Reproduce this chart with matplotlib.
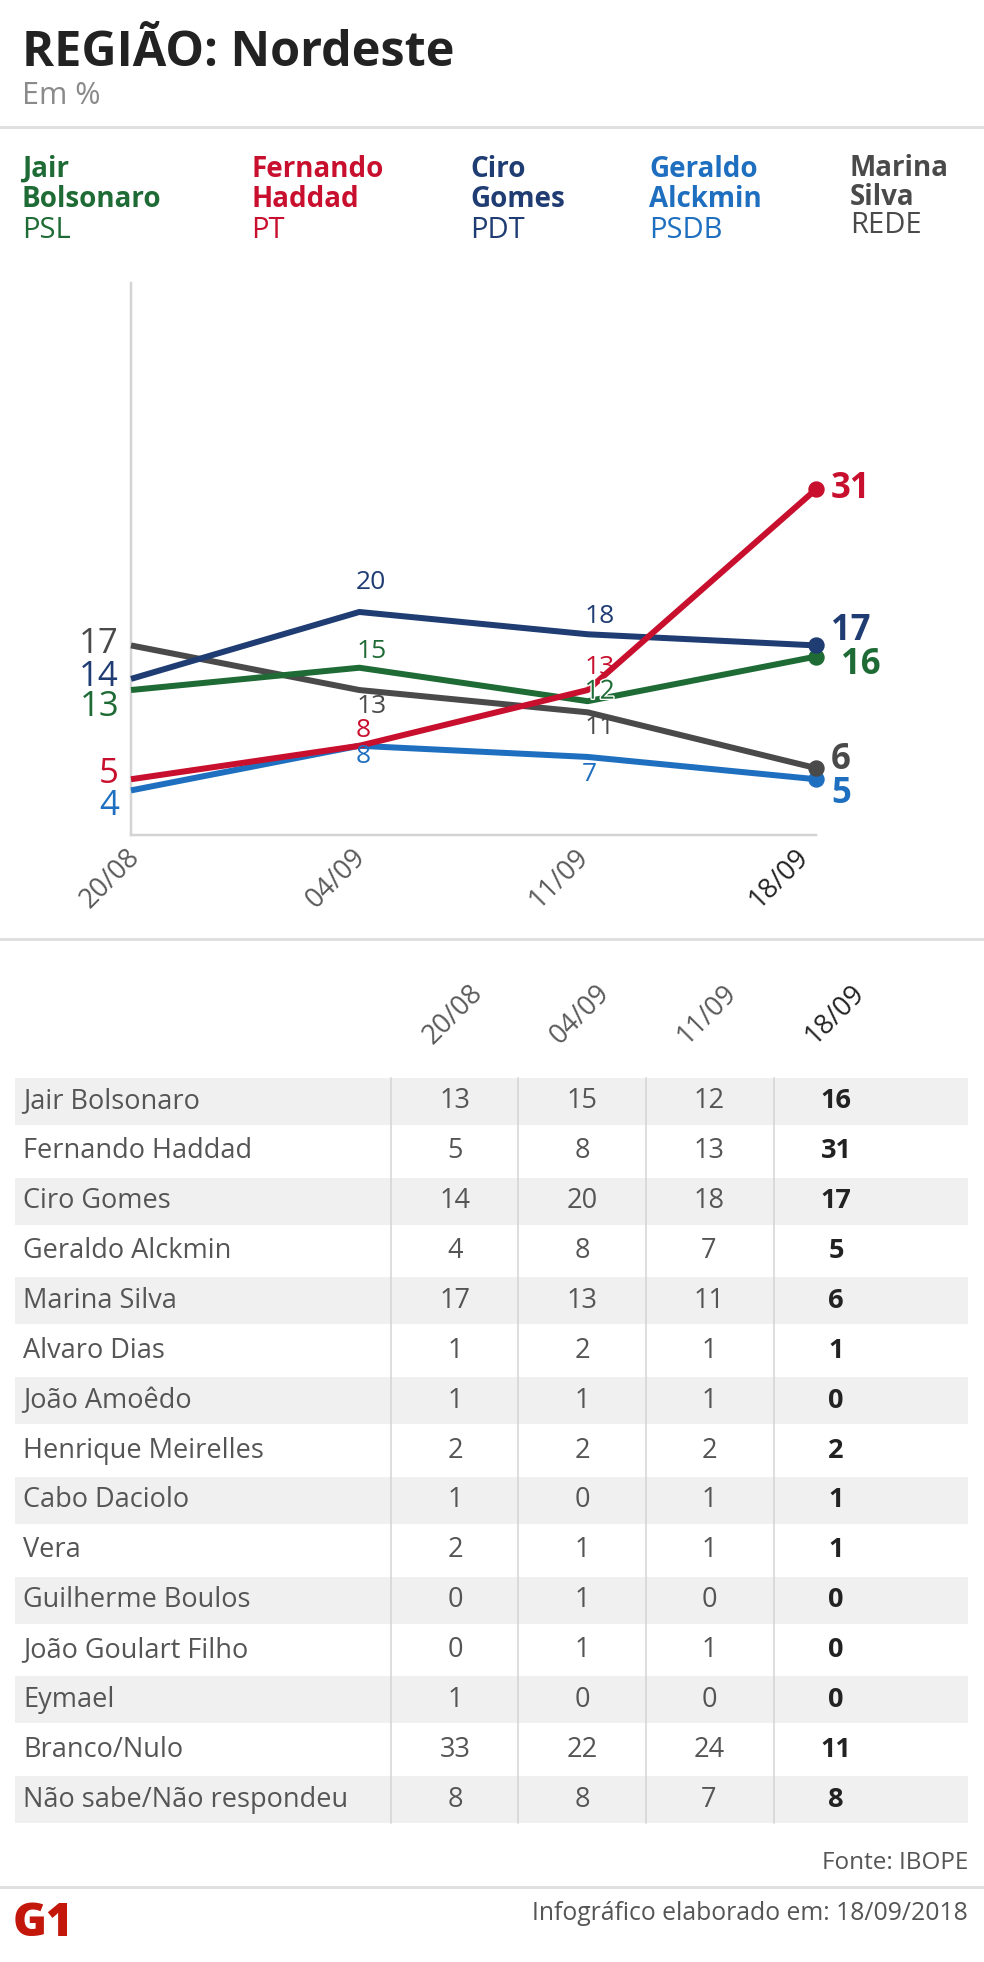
import matplotlib.pyplot as plt
import matplotlib.patheffects as pe
from matplotlib.patches import Rectangle
from matplotlib.lines import Line2D

# ---- data ----
dates = ['20/08', '04/09', '11/09', '18/09']
candidates = ['Jair Bolsonaro', 'Fernando Haddad', 'Ciro Gomes', 'Geraldo Alckmin', 'Marina Silva']
parties = ['PSL', 'PT', 'PDT', 'PSDB', 'REDE']
bolsonaro = [13, 15, 12, 16]
haddad = [5, 8, 13, 31]
ciro = [14, 20, 18, 17]
alckmin = [4, 8, 7, 5]
marina = [17, 13, 11, 6]

table_names = ['Jair Bolsonaro', 'Fernando Haddad', 'Ciro Gomes', 'Geraldo Alckmin',
               'Marina Silva', 'Alvaro Dias', 'João Amoêdo', 'Henrique Meirelles',
               'Cabo Daciolo', 'Vera', 'Guilherme Boulos', 'João Goulart Filho',
               'Eymael', 'Branco/Nulo', 'Não sabe/Não respondeu']
col_2008 = [13, 5, 14, 4, 17, 1, 1, 2, 1, 2, 0, 0, 1, 33, 8]
col_0409 = [15, 8, 20, 8, 13, 2, 1, 2, 0, 1, 1, 1, 0, 22, 8]
col_1109 = [12, 13, 18, 7, 11, 1, 1, 2, 1, 1, 0, 1, 0, 24, 7]
col_1809 = [16, 31, 17, 5, 6, 1, 0, 2, 1, 1, 0, 0, 0, 11, 8]

# ---- style ----
GREEN, RED, NAVY, BLUE, GRAY = '#1e6b35', '#c8102e', '#1f3c73', '#1e6fbf', '#4a4a4a'
colors = [GREEN, RED, NAVY, BLUE, GRAY]
series = [bolsonaro, haddad, ciro, alckmin, marina]
FONT = 'Open Sans'
plt.rcParams['font.family'] = [FONT, 'DejaVu Sans']

W, H = 984, 1962
fig = plt.figure(figsize=(W / 100, H / 100), dpi=100)


def fx(x):
    return x / W


def fy(y):
    return 1 - y / H


def pt(px):
    return px * 0.72


def hline(y, color='#e0e0e0', lw=3):
    fig.add_artist(Line2D([0, 1], [fy(y), fy(y)], color=color, lw=pt(lw)))


# header
fig.text(fx(22), fy(66), 'REGIÃO: Nordeste', fontsize=35, fontweight='bold',
         color='#222222', va='baseline')
fig.text(fx(22), fy(104), 'Em %', fontsize=22, color='#8a8a8a', va='baseline')
hline(127)

# legend
leg_x = [22, 251, 470, 649, 850]
for i, (name, party) in enumerate(zip(candidates, parties)):
    first, second = name.split(' ')
    base = [177, 207, 238] if i < 4 else [176, 205, 233]
    fig.text(fx(leg_x[i]), fy(base[0]), first, fontsize=20, fontweight='bold',
             color=colors[i], va='baseline')
    fig.text(fx(leg_x[i]), fy(base[1]), second, fontsize=20, fontweight='bold',
             color=colors[i], va='baseline')
    fig.text(fx(leg_x[i]), fy(base[2]), party, fontsize=21, color=colors[i],
             va='baseline')

# ---- line chart ----
ax_l, ax_r, ax_b, ax_t = 131, 816, 835, 283
ax = fig.add_axes([fx(ax_l), fy(ax_b), (ax_r - ax_l) / W, (ax_b - ax_t) / H])
ax.set_xlim(0, 3)
ax.set_ylim(0, 49.5)
for s in ['top', 'right']:
    ax.spines[s].set_visible(False)
for s in ['left', 'bottom']:
    ax.spines[s].set_color('#d4d4d4')
    ax.spines[s].set_linewidth(pt(2.5))
ax.set_xticks([])
ax.set_yticks([])
ax.patch.set_alpha(0)

x = list(range(len(dates)))
order = [3, 4, 0, 2, 1]  # draw order
for i in order:
    ax.plot(x, series[i], color=colors[i], lw=pt(6), solid_capstyle='butt',
            solid_joinstyle='round', clip_on=False, zorder=3)
    ax.plot([x[-1]], [series[i][-1]], 'o', color=colors[i], ms=pt(15),
            clip_on=False, zorder=4)

# label offsets in pixels (dx, dy upward) for each series / point
offsets = {
    0: [(-12, -17), (12, 16), (12, 9), (25, -8)],
    1: [(-12, 5), (4, 15), (12, 23), (15, 0)],
    2: [(-12, 2), (12, 29), (12, 18), (15, 14)],
    3: [(-12, -16), (4, -11), (2, -18), (15, -15)],
    4: [(-12, 1), (12, -16), (12, -15), (15, 8)],
}
for i in range(5):
    for j, v in enumerate(series[i]):
        dx, dy = offsets[i][j]
        if j == 0:
            kw = dict(ha='right', fontsize=25)
        elif j == 3:
            kw = dict(ha='left', fontsize=25, fontweight='bold')
        else:
            kw = dict(ha='center', fontsize=19)
        t = ax.annotate(str(v), (j, v), xytext=(pt(dx), pt(dy)),
                        textcoords='offset points', va='center', color=colors[i],
                        annotation_clip=False, zorder=5, **kw)
        if i == 0 and j == 2:
            t.set_path_effects([pe.withStroke(linewidth=2, foreground='white')])

# x tick labels
tick_right = [146, 371, 594, 814]
for j, d in enumerate(dates):
    fig.text(fx(tick_right[j]), fy(843), d, rotation=45, ha='right', va='top',
             fontsize=19.5, color='#222222' if j == 3 else '#5a5a5a')

hline(939)

# ---- table ----
col_x = [455, 582, 709, 836]
row_top, pitch, band = 1078, 49.86, 47
cols = [col_2008, col_0409, col_1109, col_1809]
for r, name in enumerate(table_names):
    top = row_top + r * pitch
    if r % 2 == 0:
        fig.add_artist(Rectangle((fx(15), fy(top + band)), (968 - 15) / W, band / H,
                                 color='#f0f0f0', lw=0, zorder=0))
    cy = top + band / 2
    fig.text(fx(23), fy(cy), name, fontsize=19.5, color='#555555', va='center')
    for c in range(4):
        fig.text(fx(col_x[c]), fy(cy), str(cols[c][r]), ha='center', va='center',
                 fontsize=19.5, color='#222222' if c == 3 else '#555555',
                 fontweight='bold' if c == 3 else 'normal')
table_bottom = row_top + 14 * pitch + band
for xv in [391, 518, 646, 774]:
    fig.add_artist(Line2D([fx(xv), fx(xv)], [fy(row_top), fy(table_bottom)],
                          color='#d4d4d4', lw=pt(1.5), zorder=1))

head_c = [453, 580, 707, 835]
for j, d in enumerate(dates):
    fig.text(fx(head_c[j]), fy(1015), d, rotation=45, ha='center', va='center',
             fontsize=19.5, color='#222222' if j == 3 else '#5a5a5a')

# ---- footer ----
fig.text(fx(968), fy(1863), 'Fonte: IBOPE', ha='right', va='center', fontsize=17.5,
         color='#555555')
hline(1887)
fig.text(fx(968), fy(1914), 'Infográfico elaborado em: 18/09/2018', ha='right',
         va='center', fontsize=17.8, color='#555555')
fig.text(fx(13), fy(1924), 'G1', fontsize=33, fontweight='heavy', color='#c4170c',
         va='center', ha='left')

fig.savefig('out.png', dpi=100, facecolor='white')
